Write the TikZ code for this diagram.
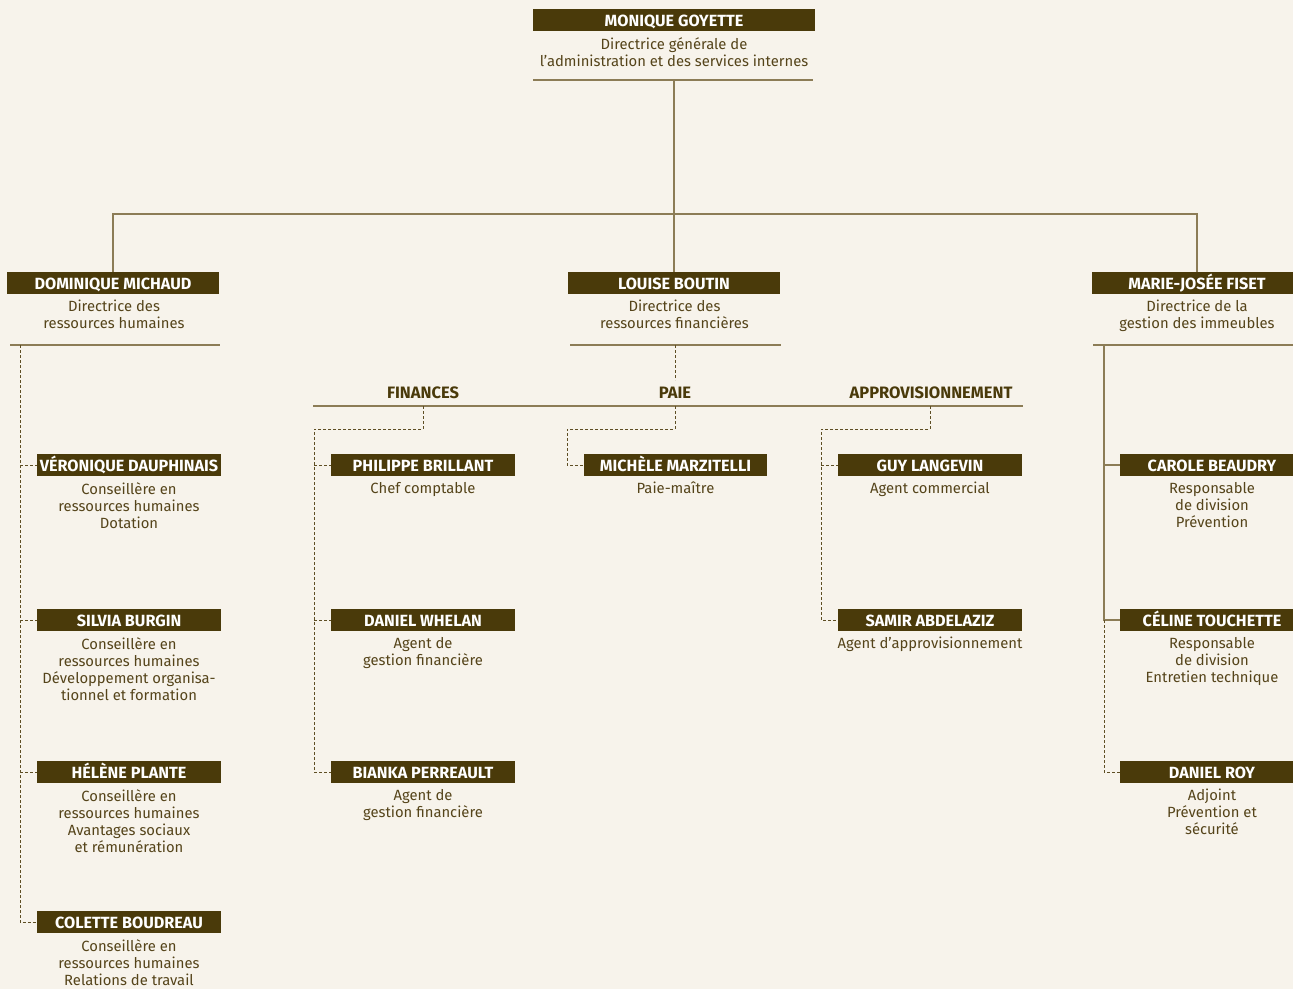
\documentclass[tikz,border=0pt]{standalone}
\usepackage{fontspec}
\setmainfont{Fira Sans}
\definecolor{bg}{HTML}{F7F3EB}
\definecolor{barc}{HTML}{4A3A0A}
\definecolor{txtc}{HTML}{55441A}
\definecolor{linec}{HTML}{8C7C56}
\definecolor{dashc}{HTML}{5E4E24}
\tikzset{
  namebar/.style={fill=barc, text=white, inner sep=0pt, minimum height=22pt,
    text height=12pt, text depth=0pt,
    font=\fontsize{16.2}{18}\selectfont\bfseries},
  desc/.style={text=txtc, inner sep=0pt, align=center, anchor=north,
    font=\fontsize{14.8}{17}\selectfont},
  sect/.style={text=barc, inner sep=0pt, font=\fontsize{16.5}{18}\selectfont\bfseries},
  solidln/.style={draw=linec, line width=1.2pt},
  dashln/.style={draw=dashc, line width=1pt, dash pattern=on 3pt off 2pt},
}
\begin{document}
\begin{tikzpicture}[x=1pt,y=-1pt]
\useasboundingbox (0,0) rectangle (1293,989);
\fill[bg] (0,0) rectangle (1293,989);

% ---- top
\node[namebar, minimum width=282pt] (top) at (674,20) {MONIQUE GOYETTE};
\node[desc] (topd) at (674,37) {Directrice générale de\\l’administration et des services internes};
\draw[solidln] (533,80) -- (813,80);
\coordinate (u0) at (674,80);
\coordinate (bus) at (674,214);

% ---- directors
\node[namebar, minimum width=212pt] (dom) at (113,283) {DOMINIQUE MICHAUD};
\node[desc] (domd) at (114,300) {Directrice des\\ressources humaines};
\node[namebar, minimum width=212pt] (bou) at (674,283) {LOUISE BOUTIN};
\node[desc] (boud) at (674.5,300) {Directrice des\\ressources financières};
\node[namebar, minimum width=210pt] (fis) at (1197,283) {MARIE-JOSÉE FISET};
\node[desc] (fisd) at (1197,300) {Directrice de la\\gestion des immeubles};

\draw[solidln] (u0) -- (bou.north);
\draw[solidln] (dom.north) -- (dom.north |- bus) -| (fis.north);

\draw[solidln] (10,345) -- (220,345);
\draw[solidln] (570,345) -- (781,345);
\draw[solidln] (1093,345) -- (1293,345);
\coordinate (uL) at (20,345);
\coordinate (uM) at (675,345);
\coordinate (uR) at (1104,345);

% ---- left column
\node[namebar, minimum width=184pt] (ver) at (129,465) {VÉRONIQUE DAUPHINAIS};
\node[desc] (verd) at (129,482) {Conseillère en\\ressources humaines\\Dotation};
\node[namebar, minimum width=184pt] (sil) at (129,620) {SILVIA BURGIN};
\node[desc] (sild) at (129,637) {Conseillère en\\ressources humaines\\Développement organisa-\\tionnel et formation};
\node[namebar, minimum width=184pt] (hel) at (129,772) {HÉLÈNE PLANTE};
\node[desc] (held) at (129,789) {Conseillère en\\ressources humaines\\Avantages sociaux\\et rémunération};
\node[namebar, minimum width=184pt] (col) at (129,922) {COLETTE BOUDREAU};
\node[desc] (cold) at (129,939) {Conseillère en\\ressources humaines\\Relations de travail};

\draw[dashln] (uL) |- (col.west);
\draw[dashln] (ver.west -| uL) -- (ver.west);
\draw[dashln] (sil.west -| uL) -- (sil.west);
\draw[dashln] (hel.west -| uL) -- (hel.west);

% ---- middle sections
\node[sect] (fin) at (423,393) {FINANCES};
\node[sect] (paie) at (675,393) {PAIE};
\node[sect] (appro) at (931,393) {APPROVISIONNEMENT};
\draw[solidln] (313,406) -- (1023,406);
\draw[dashln] (uM) -- (675,380);
\coordinate (sF) at (423,406);
\coordinate (sP) at (675,406);
\coordinate (sA) at (930,406);

\node[namebar, minimum width=184pt] (phi) at (423,465) {PHILIPPE BRILLANT};
\node[desc] (phid) at (423,482) {Chef comptable};
\node[namebar, minimum width=184pt] (dwh) at (423,620) {DANIEL WHELAN};
\node[desc] (dwhd) at (423,637) {Agent de\\gestion financière};
\node[namebar, minimum width=184pt] (bia) at (423,772) {BIANKA PERREAULT};
\node[desc] (biad) at (423,789) {Agent de\\gestion financière};

\draw[dashln] (sF) -- (423,429) -| (314,772) -- (bia.west);
\draw[dashln] (phi.west -| 314,0) -- (phi.west);
\draw[dashln] (dwh.west -| 314,0) -- (dwh.west);

\node[namebar, minimum width=183pt] (mic) at (675.5,465) {MICHÈLE MARZITELLI};
\node[desc] (micd) at (675.5,482) {Paie-maître};
\draw[dashln] (sP) -- (675,429) -| (567,465) -- (mic.west);

\node[namebar, minimum width=184pt] (guy) at (930,465) {GUY LANGEVIN};
\node[desc] (guyd) at (930,482) {Agent commercial};
\node[namebar, minimum width=184pt] (sam) at (930,620) {SAMIR ABDELAZIZ};
\node[desc] (samd) at (930,637) {Agent d’approvisionnement};
\draw[dashln] (sA) -- (930,429) -| (821,620) -- (sam.west);
\draw[dashln] (guy.west -| 821,0) -- (guy.west);

% ---- right column
\node[namebar, minimum width=184pt] (car) at (1212,465) {CAROLE BEAUDRY};
\node[desc] (card) at (1212,482) {Responsable\\de division\\Prévention};
\node[namebar, minimum width=184pt] (cel) at (1212,620) {CÉLINE TOUCHETTE};
\node[desc] (celd) at (1212,637) {Responsable\\de division\\Entretien technique};
\node[namebar, minimum width=184pt] (roy) at (1212,772) {DANIEL ROY};
\node[desc] (royd) at (1212,789) {Adjoint\\Prévention et\\sécurité};

\draw[solidln] (uR) |- (cel.west);
\draw[solidln] (car.west -| uR) -- (car.west);
\draw[dashln] (cel.west -| uR) |- (roy.west);
\end{tikzpicture}
\end{document}
